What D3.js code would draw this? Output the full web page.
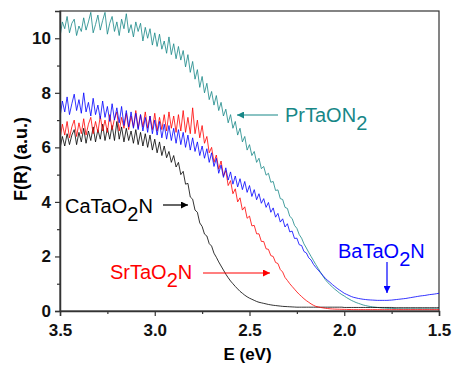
<!DOCTYPE html>
<html>
<head>
<meta charset="utf-8">
<script src="https://cdn.jsdelivr.net/npm/d3@7"></script>
<style>
  body { margin: 0; background: #fff; }
  text { font-family: Arial, "Liberation Sans", sans-serif; }
</style>
</head>
<body>
<div id="chart"></div>
<script>
// photon energy grid, 3.5 -> 1.5 eV in 0.0125 steps (161 points)
const energy = d3.range(161).map(i => +(3.5 - i * 0.0125).toFixed(4));

const prTaON2 = [
  10.05, 10.6, 10.35, 10.8, 10.2, 10.55, 10.7, 10.1, 10.45, 10.25,
  10.75, 10.3, 10.6, 10.95, 10.2, 10.5, 10.85, 10.3, 10.65, 10.95,
  10.15, 10.55, 10.8, 10.25, 10.6, 10.1, 10.7, 10.35, 10.9, 10.2,
  10.5, 10.05, 10.6, 10.25, 10.55, 9.9, 10.4, 10.0, 10.35, 9.75,
  10.2, 9.7, 10.15, 9.6, 9.9, 9.45, 10.05, 9.4, 9.8, 9.25,
  9.7, 9.2, 9.55, 8.95, 9.4, 8.75, 9.15, 8.5, 8.85, 8.2,
  8.6, 8.0, 8.35, 7.75, 8.05, 7.55, 7.9, 7.35, 7.65, 7.15,
  7.4, 6.9, 7.2, 6.7, 6.95, 6.45, 6.7, 6.2, 6.4, 5.9,
  6.1, 5.7, 5.85, 5.45, 5.6, 5.22, 5.3, 4.98, 5.05, 4.72,
  4.75, 4.42, 4.44, 4.12, 4.09, 3.8, 3.76, 3.47, 3.39, 3.14,
  3.03, 2.8, 2.67, 2.46, 2.31, 2.15, 2.0, 1.85, 1.7, 1.56,
  1.42, 1.28, 1.15, 1.05, 0.96, 0.88, 0.8, 0.73, 0.66, 0.6,
  0.55, 0.49, 0.44, 0.39, 0.35, 0.31, 0.28, 0.25, 0.22, 0.2,
  0.18, 0.165, 0.15, 0.14, 0.13, 0.12, 0.11, 0.105, 0.1, 0.095,
  0.09, 0.085, 0.085, 0.08, 0.08, 0.08, 0.08, 0.08, 0.08, 0.08,
  0.08, 0.08, 0.08, 0.08, 0.08, 0.08, 0.08, 0.08, 0.08, 0.08,
  0.08
];

const baTaO2N = [
  7.1, 7.7, 7.3, 7.85, 7.2, 7.6, 7.95, 7.35, 7.75, 7.25,
  8.0, 7.3, 7.65, 7.15, 7.8, 7.2, 7.55, 7.05, 7.7, 7.1,
  7.5, 6.95, 7.6, 7.0, 7.45, 6.9, 7.5, 6.8, 7.35, 6.75,
  7.3, 6.7, 7.25, 6.65, 7.2, 6.6, 7.1, 6.55, 7.15, 6.5,
  7.0, 6.45, 6.95, 6.35, 6.85, 6.3, 6.8, 6.25, 6.7, 6.15,
  6.65, 6.1, 6.55, 6.0, 6.45, 5.9, 6.35, 5.85, 6.2, 5.7,
  6.05, 5.6, 5.95, 5.45, 5.8, 5.3, 5.6, 5.05, 5.35, 4.9,
  5.25, 4.8, 5.1, 4.65, 4.95, 4.55, 4.85, 4.45, 4.75, 4.35,
  4.6, 4.2, 4.45, 4.08, 4.3, 3.95, 4.12, 3.8, 3.98, 3.62,
  3.78, 3.44, 3.58, 3.26, 3.38, 3.08, 3.2, 2.9, 2.93, 2.66,
  2.67, 2.43, 2.4, 2.18, 2.13, 1.95, 1.87, 1.71, 1.6, 1.5,
  1.4, 1.3, 1.2, 1.12, 1.05, 0.97, 0.9, 0.83, 0.77, 0.71,
  0.65, 0.61, 0.57, 0.53, 0.5, 0.48, 0.46, 0.445, 0.43, 0.42,
  0.41, 0.405, 0.4, 0.395, 0.39, 0.39, 0.39, 0.39, 0.39, 0.395,
  0.4, 0.41, 0.42, 0.43, 0.44, 0.45, 0.46, 0.475, 0.49, 0.505,
  0.52, 0.535, 0.55, 0.56, 0.57, 0.585, 0.6, 0.61, 0.62, 0.635,
  0.65
];

const srTaO2N = [
  6.3, 6.85, 6.45, 6.95, 6.35, 6.75, 7.0, 6.4, 6.9, 6.5,
  7.05, 6.45, 6.85, 7.1, 6.5, 6.95, 6.55, 7.15, 6.6, 7.0,
  6.55, 7.2, 6.65, 7.05, 7.3, 6.6, 7.1, 6.7, 7.25, 6.65,
  7.15, 6.75, 7.35, 6.7, 7.2, 6.75, 7.3, 6.7, 7.15, 6.65,
  7.25, 6.6, 7.1, 6.65, 7.2, 6.6, 7.3, 6.7, 7.15, 6.55,
  7.2, 6.6, 7.35, 6.55, 7.1, 6.5, 7.45, 6.5, 7.0, 6.35,
  6.8, 6.15, 6.4, 5.8, 6.0, 5.45, 5.72, 5.2, 5.5, 4.95,
  5.15, 4.6, 4.78, 4.3, 4.48, 4.0, 4.15, 3.7, 3.82, 3.4,
  3.48, 3.12, 3.14, 2.83, 2.83, 2.55, 2.55, 2.28, 2.26, 2.03,
  2.0, 1.78, 1.74, 1.52, 1.43, 1.23, 1.12, 1.0, 0.9, 0.8,
  0.7, 0.61, 0.53, 0.45, 0.38, 0.32, 0.26, 0.21, 0.17, 0.15,
  0.13, 0.115, 0.1, 0.09, 0.08, 0.075, 0.07, 0.067, 0.065, 0.062,
  0.06, 0.058, 0.055, 0.053, 0.05, 0.05, 0.05, 0.05, 0.05, 0.05,
  0.05, 0.05, 0.05, 0.05, 0.05, 0.05, 0.05, 0.05, 0.05, 0.05,
  0.05, 0.05, 0.05, 0.05, 0.05, 0.05, 0.05, 0.05, 0.05, 0.05,
  0.05, 0.05, 0.05, 0.05, 0.05, 0.05, 0.05, 0.05, 0.05, 0.05,
  0.05
];

const caTaO2N = [
  5.95, 6.4, 6.05, 6.5, 6.1, 6.45, 6.65, 6.1, 6.55, 6.2,
  6.7, 6.15, 6.6, 6.25, 6.75, 6.2, 6.65, 6.3, 6.85, 6.25,
  6.7, 6.3, 6.8, 6.25, 6.95, 6.3, 6.75, 6.2, 6.7, 6.25,
  6.6, 6.15, 6.65, 6.1, 6.55, 6.05, 6.5, 6.0, 6.45, 5.9,
  6.3, 5.8, 6.2, 5.7, 6.05, 5.62, 5.85, 5.45, 5.7, 5.28,
  5.45, 5.0, 5.12, 4.65, 4.68, 4.18, 4.1, 3.7, 3.62, 3.23,
  3.1, 2.82, 2.75, 2.47, 2.38, 2.12, 1.97, 1.8, 1.65, 1.5,
  1.35, 1.22, 1.1, 1.0, 0.9, 0.81, 0.72, 0.65, 0.58, 0.52,
  0.47, 0.43, 0.39, 0.35, 0.32, 0.3, 0.28, 0.26, 0.24, 0.225,
  0.21, 0.2, 0.19, 0.18, 0.17, 0.165, 0.16, 0.155, 0.15, 0.145,
  0.14, 0.14, 0.14, 0.14, 0.14, 0.14, 0.14, 0.14, 0.14, 0.14,
  0.14, 0.14, 0.14, 0.14, 0.14, 0.14, 0.14, 0.14, 0.14, 0.14,
  0.13, 0.13, 0.13, 0.13, 0.13, 0.13, 0.13, 0.13, 0.13, 0.13,
  0.13, 0.13, 0.13, 0.13, 0.13, 0.13, 0.13, 0.13, 0.13, 0.13,
  0.13, 0.12, 0.12, 0.12, 0.12, 0.12, 0.12, 0.12, 0.12, 0.12,
  0.12, 0.12, 0.12, 0.12, 0.12, 0.12, 0.12, 0.12, 0.12, 0.12,
  0.12
];

const xTicks = [3.5, 3.0, 2.5, 2.0, 1.5];
const xMinor = [3.25, 2.75, 2.25, 1.75];
const yTicks = [0, 2, 4, 6, 8, 10];
const yMinor = [1, 3, 5, 7, 9];

const series = [
  { name: 'PrTaON', sub: '2', tail: '', values: prTaON2, color: '#178787' },
  { name: 'CaTaO', sub: '2', tail: 'N', values: caTaO2N, color: '#000000' },
  { name: 'SrTaO', sub: '2', tail: 'N', values: srTaO2N, color: '#ff0000' },
  { name: 'BaTaO', sub: '2', tail: 'N', values: baTaO2N, color: '#0000ff' }
];

const width = 452, height = 365;
const margin = { left: 60, top: 11, right: 13, bottom: 54 };

const svg = d3.select('#chart').append('svg')
  .attr('width', width)
  .attr('height', height);

const x = d3.scaleLinear().domain([3.5, 1.5]).range([margin.left, width - margin.right]);
const y = d3.scaleLinear().domain([0, 11]).range([height - margin.bottom, margin.top]);

const defs = svg.append('defs');
defs.append('clipPath').attr('id', 'plot')
  .append('rect')
  .attr('x', margin.left).attr('y', margin.top)
  .attr('width', x(1.5) - x(3.5)).attr('height', y(0) - y(11));

// frame
svg.append('rect')
  .attr('x', margin.left).attr('y', margin.top)
  .attr('width', x(1.5) - x(3.5)).attr('height', y(0) - y(11))
  .attr('fill', 'none').attr('stroke', '#333').attr('stroke-width', 1.2);

const line = d3.line()
  .x((d, i) => x(energy[i]))
  .y(d => y(d));

const plot = svg.append('g').attr('clip-path', 'url(#plot)');
series.forEach(s => {
  plot.append('path')
    .datum(s.values)
    .attr('d', line)
    .attr('fill', 'none')
    .attr('stroke', s.color)
    .attr('stroke-width', 0.8)
    .attr('stroke-linejoin', 'round');
});

// axes
svg.append('g')
  .attr('transform', `translate(0,${y(0)})`)
  .call(d3.axisBottom(x).tickValues(xTicks).tickFormat(d3.format('.1f')).tickSize(5).tickPadding(8));
svg.append('g')
  .attr('transform', `translate(0,${y(0)})`)
  .call(d3.axisBottom(x).tickValues(xMinor).tickFormat('').tickSize(3))
  .select('.domain').remove();

svg.append('g')
  .attr('transform', `translate(${margin.left},0)`)
  .call(d3.axisLeft(y).tickValues(yTicks).tickSize(5).tickPadding(4));
svg.append('g')
  .attr('transform', `translate(${margin.left},0)`)
  .call(d3.axisLeft(y).tickValues(yMinor).tickFormat('').tickSize(3))
  .select('.domain').remove();

svg.selectAll('.domain').attr('stroke', '#333').attr('stroke-width', 1.5);
svg.selectAll('.tick line').attr('stroke', '#333').attr('stroke-width', 1.2);
svg.selectAll('.tick text')
  .attr('font-family', 'Arial, "Liberation Sans", sans-serif')
  .attr('font-size', 17)
  .attr('font-weight', 'bold')
  .attr('fill', '#111');

// axis titles
svg.append('text')
  .attr('x', (x(3.5) + x(1.5)) / 2 - 2)
  .attr('y', 360)
  .attr('text-anchor', 'middle')
  .attr('font-size', 17)
  .attr('font-weight', 'bold')
  .text('E (eV)');

svg.append('text')
  .attr('transform', `translate(27,${(y(0) + y(11)) / 2 - 2}) rotate(-90)`)
  .attr('text-anchor', 'middle')
  .attr('font-size', 18)
  .attr('font-weight', 'bold')
  .text('F(R) (a.u.)');

// labels and arrows
series.forEach((s, k) => {
  defs.append('marker')
    .attr('id', 'arrow' + k)
    .attr('viewBox', '0 0 10 10')
    .attr('refX', 10).attr('refY', 5)
    .attr('markerWidth', 9).attr('markerHeight', 7)
    .attr('markerUnits', 'userSpaceOnUse')
    .attr('orient', 'auto')
    .append('path')
    .attr('d', 'M0,0 L10,5 L0,10 Z')
    .attr('fill', s.color);
});

const labelPos = [
  { tx: 285, ty: 122, from: [278, 115], to: [237, 115] },
  { tx: 65, ty: 213, from: [163, 205], to: [188, 205] },
  { tx: 110, ty: 279, from: [203, 273], to: [270, 273] },
  { tx: 338, ty: 258, from: [387, 262], to: [387, 293] }
];

series.forEach((s, k) => {
  const p = labelPos[k];
  const t = svg.append('text')
    .attr('x', p.tx).attr('y', p.ty)
    .attr('font-size', 20)
    .attr('fill', s.color);
  t.append('tspan').text(s.name);
  t.append('tspan').attr('dy', 8).text(s.sub);
  if (s.tail) t.append('tspan').attr('dy', -8).text(s.tail);

  svg.append('line')
    .attr('x1', p.from[0]).attr('y1', p.from[1])
    .attr('x2', p.to[0]).attr('y2', p.to[1])
    .attr('stroke', s.color)
    .attr('stroke-width', 1.2)
    .attr('marker-end', `url(#arrow${k})`);
});
</script>
</body>
</html>
